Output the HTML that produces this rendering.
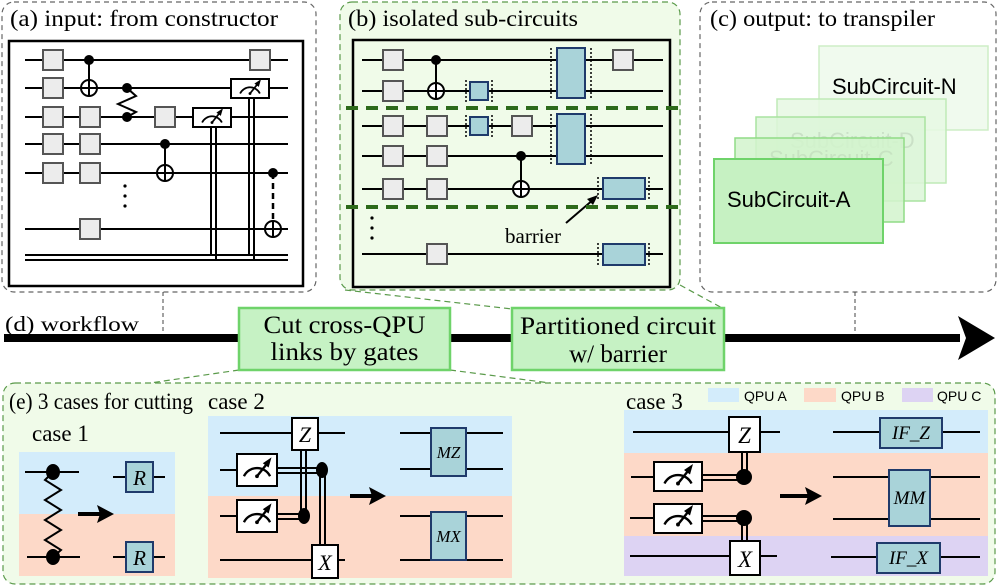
<!DOCTYPE html>
<html><head><meta charset="utf-8"><style>
html,body{margin:0;padding:0;background:#fff;}
svg{display:block;}
.s{font-family:"Liberation Serif",serif;}
.n{font-family:"Liberation Sans",sans-serif;}
</style></head><body>
<svg width="998" height="586" viewBox="0 0 998 586" xmlns="http://www.w3.org/2000/svg">
<defs>
<g id="meter"><path d="M-9,5 A10,10 0 0 1 9,5" fill="none" stroke="#000" stroke-width="1.6"/><line x1="0" y1="5" x2="8" y2="-5" stroke="#000" stroke-width="1.6"/><path d="M10,-8 L4,-4 L8,-1 Z" fill="#000"/><circle cx="0" cy="5" r="1.3"/></g>
<g id="oplus"><circle r="8" fill="#fff" stroke="#000" stroke-width="2"/><line x1="-8" y1="0" x2="8" y2="0" stroke="#000" stroke-width="2"/><line x1="0" y1="-8" x2="0" y2="8" stroke="#000" stroke-width="2"/></g>
<rect id="g" x="-10" y="-10" width="20" height="20" fill="#ececec" stroke="#555" stroke-width="2"/>
</defs>

<!-- Panel a -->
<rect x="2" y="2" width="314" height="290" rx="12" fill="none" stroke="#666" stroke-width="1.2" stroke-dasharray="5,4"/>
<text x="10" y="26" class="s" font-size="23" textLength="268" lengthAdjust="spacingAndGlyphs">(a) input: from constructor</text>
<rect x="9" y="41" width="294" height="245" fill="#fff" stroke="#000" stroke-width="2.5"/>
<g stroke="#000" stroke-width="2">
<line x1="25" y1="60" x2="288" y2="60"/><line x1="25" y1="88" x2="288" y2="88"/><line x1="25" y1="117" x2="288" y2="117"/>
<line x1="25" y1="144" x2="288" y2="144"/><line x1="25" y1="173" x2="288" y2="173"/><line x1="25" y1="229" x2="288" y2="229"/>
<line x1="25" y1="255" x2="288" y2="255"/><line x1="25" y1="260" x2="288" y2="260"/>
<line x1="89" y1="60" x2="89" y2="88"/><line x1="165" y1="144" x2="165" y2="173"/>
<polyline points="127,88 136,96 118,104 136,112 127,117" fill="none"/>
<line x1="211" y1="127" x2="211" y2="255"/><line x1="216" y1="127" x2="216" y2="260"/>
<line x1="249" y1="98" x2="249" y2="255"/><line x1="254" y1="98" x2="254" y2="260"/>
<line x1="273" y1="173" x2="273" y2="221" stroke-dasharray="6,4" stroke-width="2.5"/>
</g>
<g fill="#000"><circle cx="89" cy="60" r="5"/><circle cx="127" cy="88" r="5"/><circle cx="127" cy="117" r="5"/><circle cx="165" cy="144" r="5"/><circle cx="273" cy="173" r="5"/>
<circle cx="125" cy="186" r="1.6"/><circle cx="125" cy="196" r="1.6"/><circle cx="125" cy="206" r="1.6"/></g>
<use href="#oplus" x="89" y="88"/><use href="#oplus" x="165" y="173"/><use href="#oplus" x="273" y="229"/>
<use href="#g" x="53" y="60"/><use href="#g" x="53" y="88"/><use href="#g" x="53" y="117"/><use href="#g" x="53" y="144"/><use href="#g" x="53" y="173"/>
<use href="#g" x="90" y="117"/><use href="#g" x="90" y="144"/><use href="#g" x="90" y="173"/><use href="#g" x="90" y="229"/>
<use href="#g" x="165" y="117"/><use href="#g" x="260" y="60"/>
<rect x="193" y="108" width="38" height="19" fill="#fff" stroke="#000" stroke-width="2"/><use href="#meter" transform="translate(212,117) scale(1.1)"/>
<rect x="231" y="79" width="38" height="19" fill="#fff" stroke="#000" stroke-width="2"/><use href="#meter" transform="translate(250,88) scale(1.1)"/>

<!-- Panel b -->
<rect x="340" y="2" width="340" height="288" rx="12" fill="#f0fbe9" stroke="#5a9a4a" stroke-width="1.2" stroke-dasharray="6,4"/>
<text x="348" y="26" class="s" font-size="23" textLength="230" lengthAdjust="spacingAndGlyphs">(b) isolated sub-circuits</text>
<rect x="353" y="40" width="317" height="247" fill="none" stroke="#000" stroke-width="2.5"/>
<g stroke="#000" stroke-width="2">
<line x1="362" y1="60" x2="663" y2="60"/><line x1="362" y1="91" x2="663" y2="91"/><line x1="362" y1="126" x2="663" y2="126"/>
<line x1="362" y1="156" x2="663" y2="156"/><line x1="362" y1="189" x2="663" y2="189"/><line x1="362" y1="254" x2="663" y2="254"/>
<line x1="436" y1="60" x2="436" y2="91"/><line x1="521" y1="156" x2="521" y2="189"/>
<line x1="566" y1="223" x2="594" y2="199"/>
</g>
<path d="M598,195 L587,199 L593,205 Z" fill="#000"/>
<g fill="#000"><circle cx="436" cy="60" r="5"/><circle cx="521" cy="156" r="5"/>
<circle cx="372" cy="218" r="1.6"/><circle cx="372" cy="228" r="1.6"/><circle cx="372" cy="238" r="1.6"/></g>
<use href="#oplus" x="436" y="91"/><use href="#oplus" x="521" y="189"/>
<use href="#g" x="393" y="60"/><use href="#g" x="393" y="91"/><use href="#g" x="393" y="126"/><use href="#g" x="393" y="156"/><use href="#g" x="393" y="189"/>
<use href="#g" x="437" y="126"/><use href="#g" x="437" y="156"/><use href="#g" x="437" y="189"/><use href="#g" x="437" y="254"/>
<use href="#g" x="522" y="126"/><use href="#g" x="623" y="60"/>
<g fill="#a9d3d9" stroke="#1f3a6b" stroke-width="2">
<rect x="470" y="82" width="18" height="18"/><rect x="470" y="117" width="18" height="18"/>
<rect x="557" y="48" width="28" height="50"/><rect x="557" y="114" width="28" height="50"/>
<rect x="603" y="178" width="42" height="21"/><rect x="603" y="244" width="42" height="21"/>
</g>
<g stroke="#000" stroke-width="1.5" stroke-dasharray="2,2">
<line x1="466" y1="80" x2="466" y2="102"/><line x1="492" y1="80" x2="492" y2="102"/>
<line x1="466" y1="115" x2="466" y2="137"/><line x1="492" y1="115" x2="492" y2="137"/>
<line x1="551" y1="48" x2="551" y2="100"/><line x1="591" y1="48" x2="591" y2="100"/>
<line x1="551" y1="114" x2="551" y2="166"/><line x1="591" y1="114" x2="591" y2="166"/>
<line x1="598" y1="177" x2="598" y2="200"/><line x1="649" y1="177" x2="649" y2="200"/>
<line x1="598" y1="243" x2="598" y2="266"/><line x1="649" y1="243" x2="649" y2="266"/>
</g>
<g stroke="#2d6a1a" stroke-width="4" stroke-dasharray="12,8">
<line x1="346" y1="108" x2="678" y2="108"/><line x1="346" y1="207" x2="678" y2="207"/>
</g>
<text x="505" y="243" class="s" font-size="21">barrier</text>

<!-- Panel c -->
<rect x="700" y="2" width="296" height="290" rx="12" fill="none" stroke="#666" stroke-width="1.2" stroke-dasharray="5,4"/>
<text x="710" y="26" class="s" font-size="23" textLength="225" lengthAdjust="spacingAndGlyphs">(c) output: to transpiler</text>
<rect x="819" y="46" width="169" height="84" fill="#f0faee" stroke="#cdeec6" stroke-width="1.5"/>
<text x="832" y="94" class="n" font-size="22">SubCircuit-N</text>
<rect x="777" y="99" width="169" height="84" fill="#e6f8e3" fill-opacity="0.85" stroke="#bfeab7" stroke-width="1.5"/>
<text x="790" y="148" class="n" font-size="22" fill="#666">SubCircuit-D</text>
<rect x="756" y="117" width="169" height="84" fill="#dcf6d8" fill-opacity="0.85" stroke="#a9e3a0" stroke-width="1.5"/>
<text x="769" y="166" class="n" font-size="22" fill="#888">SubCircuit-C</text>
<rect x="735" y="138" width="169" height="84" fill="#d2f3cd" fill-opacity="0.85" stroke="#90dc86" stroke-width="1.5"/>
<text x="748" y="187" class="n" font-size="22" fill="#222">SubCircuit-B</text>
<rect x="714" y="159" width="169" height="84" fill="#c6f1c2" stroke="#6fd36a" stroke-width="2"/>
<text x="727" y="207" class="n" font-size="22">SubCircuit-A</text>

<!-- workflow -->
<line x1="163" y1="292" x2="163" y2="334" stroke="#444" stroke-dasharray="4,3"/>
<line x1="855" y1="292" x2="855" y2="334" stroke="#444" stroke-dasharray="4,3"/>
<line x1="4" y1="338" x2="960" y2="338" stroke="#000" stroke-width="8"/>
<path d="M995,338 L958,316 L966,338 L958,360 Z" fill="#000"/>
<text x="5" y="331" class="s" font-size="21" textLength="134" lengthAdjust="spacingAndGlyphs">(d) workflow</text>
<g stroke="#5a9a4a" stroke-width="1.2" stroke-dasharray="6,4" fill="none">
<line x1="345" y1="290" x2="512" y2="309"/><line x1="680" y1="285" x2="724" y2="309"/>
<line x1="239" y1="370" x2="150" y2="383"/><line x1="450" y1="370" x2="550" y2="383"/>
</g>
<rect x="239" y="308" width="211" height="62" fill="#c6f2c4" stroke="#6fd36a" stroke-width="2.5"/>
<text x="344.5" y="333" class="s" font-size="25" text-anchor="middle" textLength="162" lengthAdjust="spacingAndGlyphs">Cut cross-QPU</text>
<text x="344.5" y="360" class="s" font-size="25" text-anchor="middle" textLength="148" lengthAdjust="spacingAndGlyphs">links by gates</text>
<rect x="512" y="308" width="212" height="62" fill="#c6f2c4" stroke="#6fd36a" stroke-width="2.5"/>
<text x="618" y="334" class="s" font-size="25" text-anchor="middle" textLength="196" lengthAdjust="spacingAndGlyphs">Partitioned circuit</text>
<text x="618" y="362" class="s" font-size="25" text-anchor="middle">w/ barrier</text>

<!-- Panel e -->
<rect x="3" y="383" width="992" height="201" rx="12" fill="#f0fbe9" stroke="#5a9a4a" stroke-width="1.2" stroke-dasharray="6,4"/>
<text x="9" y="409" class="s" font-size="23" textLength="184" lengthAdjust="spacingAndGlyphs">(e) 3 cases for cutting</text>
<text x="209" y="409" class="s" font-size="23" textLength="52" lengthAdjust="spacingAndGlyphs" transform="translate(0,0)" dx="0"> </text>
<text x="208" y="409" class="s" font-size="23">case 2</text>
<text x="32" y="441" class="s" font-size="23">case 1</text>
<text x="626" y="409" class="s" font-size="23">case 3</text>
<rect x="708" y="388" width="31" height="14" fill="#d3ecfb"/><text x="744" y="401" class="n" font-size="14">QPU A</text>
<rect x="804" y="388" width="32" height="14" fill="#fdd9c8"/><text x="841" y="401" class="n" font-size="14">QPU B</text>
<rect x="902" y="388" width="31" height="14" fill="#ddd3f3"/><text x="937" y="401" class="n" font-size="14">QPU C</text>

<!-- case1 -->
<rect x="19" y="452" width="156" height="62" fill="#d3ecfb"/><rect x="19" y="514" width="156" height="62" fill="#fdd9c8"/>
<g stroke="#000" stroke-width="2" fill="none">
<line x1="25" y1="472" x2="79" y2="472"/><line x1="27" y1="557" x2="80" y2="557"/>
<polyline points="53,472 45,480 61,490 45,500 61,510 45,520 61,530 45,540 61,550 53,557"/>
<line x1="113" y1="477" x2="165" y2="477"/><line x1="113" y1="557" x2="165" y2="557"/>
<line x1="78" y1="514" x2="100" y2="514" stroke-width="4"/>
</g>
<path d="M114,514 L97,505 L100,514 L97,523 Z" fill="#000"/>
<ellipse cx="53" cy="472" rx="7" ry="8"/><ellipse cx="53" cy="557" rx="7" ry="8"/>
<g fill="#a9d3d9" stroke="#1f3a6b" stroke-width="2"><rect x="126" y="462" width="27" height="30"/><rect x="126" y="542" width="27" height="30"/></g>
<text x="139.5" y="485" class="s" font-size="21" font-style="italic" text-anchor="middle">R</text>
<text x="139.5" y="565" class="s" font-size="21" font-style="italic" text-anchor="middle">R</text>

<!-- case2 -->
<rect x="208" y="416" width="304" height="80" fill="#d3ecfb"/><rect x="208" y="496" width="304" height="82" fill="#fdd9c8"/>
<g stroke="#000" stroke-width="2" fill="none">
<line x1="220" y1="433" x2="345" y2="433"/><line x1="220" y1="470" x2="237" y2="470"/><line x1="220" y1="516" x2="237" y2="516"/><line x1="220" y1="560" x2="345" y2="560"/>
<line x1="277" y1="468" x2="322" y2="468"/><line x1="277" y1="473" x2="322" y2="473"/>
<line x1="277" y1="514" x2="303" y2="514"/><line x1="277" y1="519" x2="303" y2="519"/>
<line x1="301" y1="450" x2="301" y2="516"/><line x1="306" y1="450" x2="306" y2="516"/>
<line x1="320" y1="470" x2="320" y2="545"/><line x1="325" y1="470" x2="325" y2="545"/>
<line x1="350" y1="496" x2="372" y2="496" stroke-width="4"/>
<line x1="400" y1="433" x2="503" y2="433"/><line x1="400" y1="469" x2="503" y2="469"/>
<line x1="400" y1="516" x2="503" y2="516"/><line x1="400" y1="560" x2="503" y2="560"/>
</g>
<path d="M386,496 L369,487 L372,496 L369,505 Z" fill="#000"/>
<ellipse cx="322" cy="470" rx="6" ry="8"/><ellipse cx="304" cy="516" rx="6" ry="8"/>
<g fill="#fff" stroke="#000" stroke-width="2">
<rect x="292" y="418" width="26" height="32"/><rect x="312" y="545" width="26" height="33"/>
<rect x="237" y="454" width="40" height="32"/><rect x="237" y="500" width="40" height="32"/>
</g>
<use href="#meter" transform="translate(257,469) scale(1.45)"/><use href="#meter" transform="translate(257,515) scale(1.45)"/>
<text x="305" y="442" class="s" font-size="22" font-style="italic" text-anchor="middle">Z</text>
<text x="325" y="570" class="s" font-size="22" font-style="italic" text-anchor="middle">X</text>
<g fill="#a9d3d9" stroke="#1f3a6b" stroke-width="2"><rect x="431" y="428" width="35" height="48"/><rect x="431" y="512" width="35" height="48"/></g>
<text x="448.5" y="458" class="s" font-size="17" font-style="italic" text-anchor="middle">MZ</text>
<text x="448.5" y="542" class="s" font-size="17" font-style="italic" text-anchor="middle">MX</text>

<!-- case3 -->
<rect x="624" y="410" width="364" height="43" fill="#d3ecfb"/><rect x="624" y="453" width="364" height="83" fill="#fdd9c8"/><rect x="624" y="536" width="364" height="40" fill="#ddd3f3"/>
<g stroke="#000" stroke-width="2" fill="none">
<line x1="633" y1="432" x2="780" y2="432"/><line x1="631" y1="477" x2="654" y2="477"/><line x1="630" y1="518" x2="654" y2="518"/><line x1="630" y1="556" x2="777" y2="556"/>
<line x1="702" y1="475" x2="744" y2="475"/><line x1="702" y1="480" x2="744" y2="480"/>
<line x1="702" y1="516" x2="744" y2="516"/><line x1="702" y1="521" x2="744" y2="521"/>
<line x1="742" y1="452" x2="742" y2="477"/><line x1="747" y1="452" x2="747" y2="477"/>
<line x1="742" y1="518" x2="742" y2="541"/><line x1="747" y1="518" x2="747" y2="541"/>
<line x1="780" y1="496" x2="808" y2="496" stroke-width="4"/>
<line x1="833" y1="432" x2="980" y2="432"/><line x1="833" y1="477" x2="980" y2="477"/><line x1="833" y1="519" x2="980" y2="519"/><line x1="831" y1="557" x2="980" y2="557"/>
</g>
<path d="M822,496 L805,487 L808,496 L805,505 Z" fill="#000"/>
<circle cx="744" cy="477" r="8"/><circle cx="744" cy="518" r="8"/>
<g fill="#fff" stroke="#000" stroke-width="2">
<rect x="729" y="417" width="31" height="35"/><rect x="730" y="541" width="30" height="34"/>
<rect x="654" y="462" width="48" height="29"/><rect x="654" y="504" width="48" height="29"/>
</g>
<use href="#meter" transform="translate(678,476) scale(1.5)"/><use href="#meter" transform="translate(678,517) scale(1.5)"/>
<text x="744.5" y="443" class="s" font-size="23" font-style="italic" text-anchor="middle">Z</text>
<text x="745" y="567" class="s" font-size="23" font-style="italic" text-anchor="middle">X</text>
<g fill="#a9d3d9" stroke="#1f3a6b" stroke-width="2"><rect x="880" y="418" width="62" height="30"/><rect x="889" y="470" width="41" height="56"/><rect x="877" y="543" width="63" height="30"/></g>
<text x="911" y="439" class="s" font-size="19" font-style="italic" text-anchor="middle">IF_Z</text>
<text x="909.5" y="504" class="s" font-size="19" font-style="italic" text-anchor="middle">MM</text>
<text x="908.5" y="564" class="s" font-size="19" font-style="italic" text-anchor="middle">IF_X</text>
</svg>
</body></html>
